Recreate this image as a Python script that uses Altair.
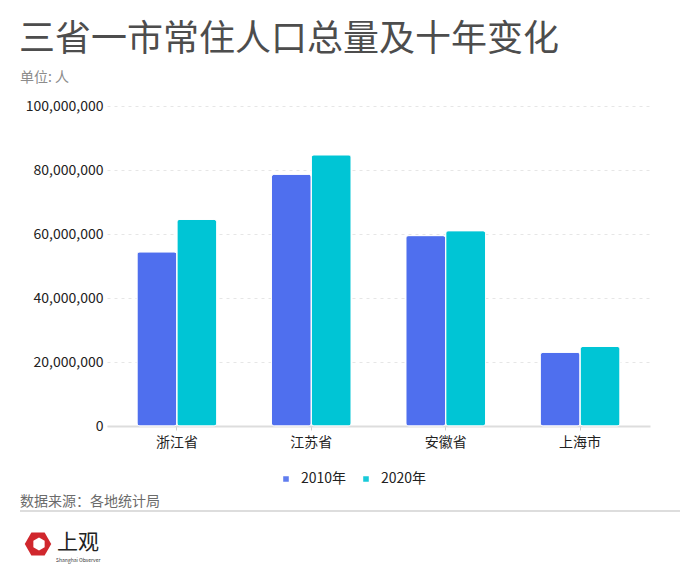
import altair as alt
import pandas as pd

regions = ["浙江省", "江苏省", "安徽省", "上海市"]
years = ["2010年", "2020年"]
pop_2010 = [54426891, 78660941, 59500468, 23019196]
pop_2020 = [64567588, 84748016, 61027171, 24870895]
colors = ["#4f6fee", "#00c5d5"]

title_text = "三省一市常住人口总量及十年变化"
unit_text = "单位: 人"
source_text = "数据来源：各地统计局"
logo_text = "上观"
logo_sub = "Shanghai Observer"

FONT = "Noto Sans CJK SC"

rows = []
for i, r in enumerate(regions):
    rows.append({"region": r, "year": years[0], "pop": pop_2010[i]})
    rows.append({"region": r, "year": years[1], "pop": pop_2020[i]})
df = pd.DataFrame(rows)

bars = alt.Chart(df).mark_bar(cornerRadius=3, stroke="white", strokeWidth=1).encode(
    x=alt.X("region:N", sort=regions, title=None,
            scale=alt.Scale(paddingInner=0.406, paddingOuter=0.223),
            axis=alt.Axis(labelAngle=0, labelFontSize=14, labelColor="#222", labelFont=FONT,
                          domainColor="#dddddd", domainWidth=2, tickColor="#cccccc",
                          tickSize=4, labelPadding=5, grid=False)),
    xOffset=alt.XOffset("year:N", sort=years, scale=alt.Scale(paddingInner=0, paddingOuter=0)),
    y=alt.Y("pop:Q", title=None,
            scale=alt.Scale(domain=[0, 100000000], nice=False),
            axis=alt.Axis(values=[0, 20000000, 40000000, 60000000, 80000000, 100000000],
                          format=",.0f", labelFontSize=14, labelColor="#222", labelFont=FONT,
                          domain=False, ticks=False, labelPadding=4,
                          gridColor="#e6e6e6", gridDash=[3, 4], gridWidth=1)),
    color=alt.Color("year:N", sort=years, scale=alt.Scale(domain=years, range=colors),
                    legend=alt.Legend(title=None, orient="none", legendX=172, legendY=366,
                                      direction="horizontal", symbolType="square",
                                      symbolSize=50, symbolOpacity=0.9,
                                      labelFontSize=14, labelColor="#222", labelFont=FONT,
                                      columnPadding=12, labelOffset=8)),
)

one = pd.DataFrame({"k": [0]})

def txt(text, x, y, size, color, weight="normal", font=FONT):
    return alt.Chart(one).mark_text(text=text, align="left", baseline="alphabetic",
                                    fontSize=size, color=color, fontWeight=weight, font=font).encode(
        x=alt.value(x), y=alt.value(y))

title = txt(title_text, -88, -55, 36, "#4d4d4d")
unit = txt(unit_text, -87, -24, 14, "#8c8c8c")
source = txt(source_text, -87, 400, 14, "#6b6b6b")
sep = alt.Chart(one).mark_rule(color="#dddddd", strokeWidth=2).encode(
    x=alt.value(-87), x2=alt.value(573), y=alt.value(405))

hexagon = "M -1 0 L -0.5 -0.866 L 0.5 -0.866 L 1 0 L 0.5 0.866 L -0.5 0.866 Z"
hexagon_rot = "M 0 -1 L 0.866 -0.5 L 0.866 0.5 L 0 1 L -0.866 0.5 L -0.866 -0.5 Z"
logo_outer = alt.Chart(one).mark_point(shape=hexagon, filled=True, color="#d0272d",
                                        size=700, opacity=1).encode(
    x=alt.value(-69), y=alt.value(438))
logo_inner = alt.Chart(one).mark_point(shape=hexagon_rot, filled=True, color="white",
                                        size=170, opacity=1).encode(
    x=alt.value(-68), y=alt.value(438))
logo_t = txt(logo_text, -50, 443, 21, "#222")
logo_s = txt(logo_sub, -51, 456, 5, "#333")

chart = alt.layer(bars, title, unit, source, sep, logo_outer, logo_inner, logo_t, logo_s).properties(
    width=543, height=320,
    autosize=alt.AutoSizeParams(type="none"),
    padding={"left": 99, "top": 98, "right": 30, "bottom": 140},
).configure(background="white").configure_view(stroke=None)

chart.save("out.html", embed_options={"renderer": "svg", "actions": False})
